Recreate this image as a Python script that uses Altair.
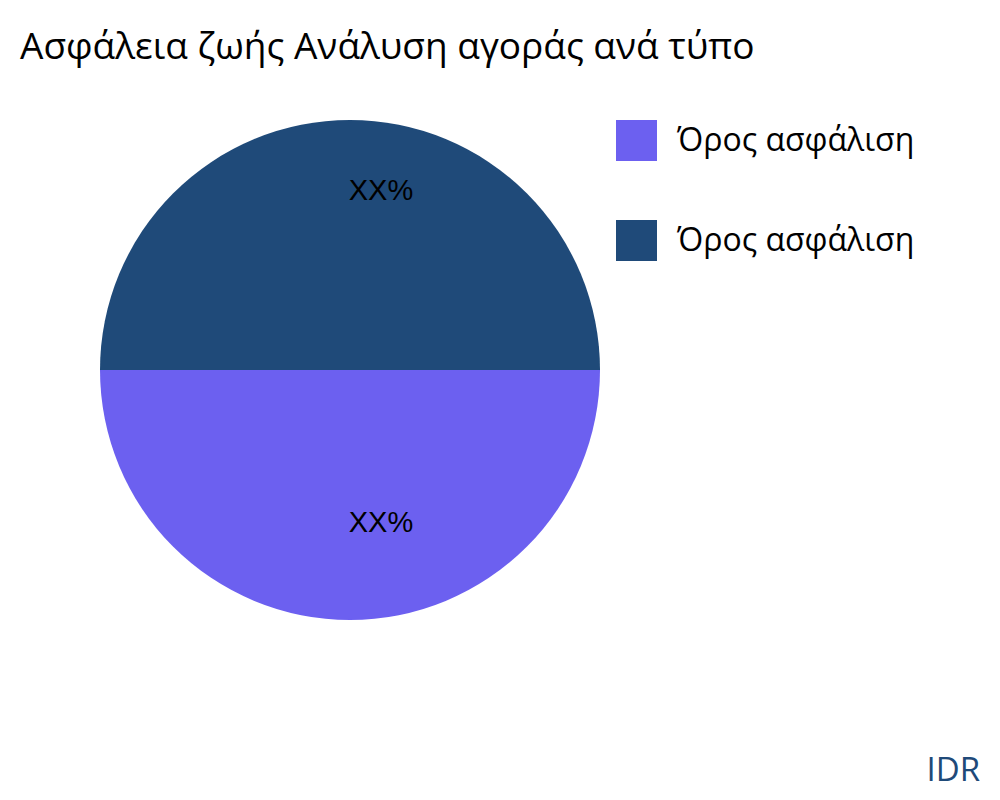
import json
import math
import altair as alt
import pandas as pd

# ---- data ----
categories = ["Όρος ασφάλιση", "Όρος ασφάλιση"]
shares = [50, 50]
labels = ["XX%", "XX%"]
colors = ["#6c60f0", "#1f4a79"]

df = pd.DataFrame({
    "key": [str(i) for i in range(len(categories))],
    "category": categories,
    "share": shares,
    "label": labels,
})

label_expr = json.dumps(categories, ensure_ascii=False) + "[toNumber(datum.value)]"

theta_scale = alt.Scale(range=[math.pi / 2, math.pi / 2 + 2 * math.pi])

base = alt.Chart(df).encode(
    theta=alt.Theta("share:Q", stack=True, scale=theta_scale),
    order=alt.Order("key:N"),
)

pie = base.mark_arc(outerRadius=250, stroke=None).encode(
    color=alt.Color(
        "key:N",
        scale=alt.Scale(domain=df["key"].tolist(), range=colors),
        legend=alt.Legend(
            title=None,
            orient="none",
            legendX=516,
            legendY=0,
            symbolType="square",
            symbolSize=1681,
            symbolStrokeWidth=0,
            symbolOpacity=1,
            labelExpr=label_expr,
            labelFont="Open Sans",
            labelFontSize=32,
            labelColor="#000000",
            labelOffset=20,
            rowPadding=59,
            padding=0,
            labelLimit=400,
        ),
    )
)

text = base.mark_text(
    radius=166,
    dx=31,
    dy=-13,
    font="Liberation Sans",
    fontSize=29,
    color="#000000",
    align="center",
    baseline="middle",
).encode(text="label:N")

credit = alt.Chart(pd.DataFrame({"t": ["IDR"]})).mark_text(
    font="Open Sans",
    fontSize=33,
    color="#1f4a79",
    align="right",
    baseline="alphabetic",
).encode(text="t:N", x=alt.value(880), y=alt.value(661))

chart = alt.layer(pie, text, credit).properties(
    width=500,
    height=500,
    autosize=alt.AutoSizeParams(type="none"),
    padding={"left": 92, "top": 112, "right": 384, "bottom": 172},
    title=alt.TitleParams(
        "Ασφάλεια ζωής Ανάλυση αγοράς ανά τύπο",
        anchor="start",
        frame="group",
        dx=-80,
        offset=24,
        baseline="alphabetic",
        font="Open Sans",
        fontSize=37,
        fontWeight="normal",
        color="#000000",
    ),
).configure_view(stroke=None)

chart.save("out.html", embed_options={"renderer": "svg", "actions": False})
